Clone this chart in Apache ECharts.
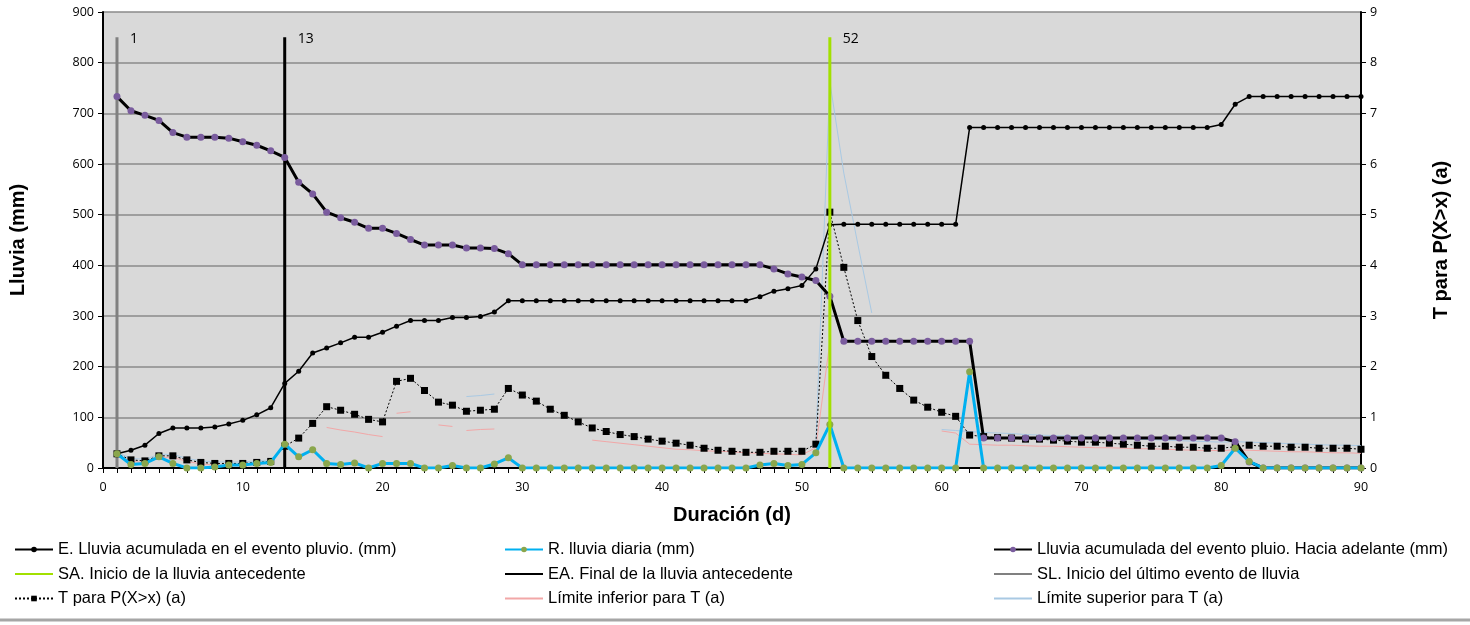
<!DOCTYPE html>
<html>
<head>
<meta charset="utf-8">
<script src="https://cdn.jsdelivr.net/npm/echarts@6/dist/echarts.min.js"></script>
<style>
  html, body { margin: 0; padding: 0; background: #ffffff; }
  #chart { width: 1470px; height: 625px; }
</style>
</head>
<body>
<div id="chart"></div>
<script>
// Duración (d)
const days = [
  1, 2, 3, 4, 5, 6, 7, 8, 9, 10, 11, 12, 13, 14, 15, 16, 17, 18, 19, 20,
  21, 22, 23, 24, 25, 26, 27, 28, 29, 30, 31, 32, 33, 34, 35, 36, 37, 38, 39, 40,
  41, 42, 43, 44, 45, 46, 47, 48, 49, 50, 51, 52, 53, 54, 55, 56, 57, 58, 59, 60,
  61, 62, 63, 64, 65, 66, 67, 68, 69, 70, 71, 72, 73, 74, 75, 76, 77, 78, 79, 80,
  81, 82, 83, 84, 85, 86, 87, 88, 89, 90
];

// E. Lluvia acumulada en el evento pluvio. (mm)
const cumulativeRain = [
  28, 35, 45, 68, 79, 79, 79, 81, 87, 94, 105, 119, 167, 191, 227, 237, 247, 258, 258, 268,
  280, 291, 291, 291, 297, 297, 299, 308, 330, 330, 330, 330, 330, 330, 330, 330, 330, 330, 330, 330,
  330, 330, 330, 330, 330, 330, 338, 349, 354, 360, 393, 480, 481, 481, 481, 481, 481, 481, 481, 481,
  481, 672, 672, 672, 672, 672, 672, 672, 672, 672, 672, 672, 672, 672, 672, 672, 672, 672, 672, 678,
  718, 733, 733, 733, 733, 733, 733, 733, 733, 733
];

// R. lluvia diaria (mm)
const dailyRain = [
  28, 7, 9, 22, 9, 0, 0, 2, 6, 6, 9, 11, 47, 22, 36, 9, 7, 10, 0, 9,
  9, 9, 0, 0, 5, 0, 0, 8, 20, 0, 0, 0, 0, 0, 0, 0, 0, 0, 0, 0,
  0, 0, 0, 0, 0, 0, 6, 9, 5, 7, 30, 86, 0, 0, 0, 0, 0, 0, 0, 0,
  0, 190, 0, 0, 0, 0, 0, 0, 0, 0, 0, 0, 0, 0, 0, 0, 0, 0, 0, 5,
  39, 13, 0, 0, 0, 0, 0, 0, 0, 0
];

// Lluvia acumulada del evento pluio. Hacia adelante (mm)
const forwardRain = [
  733, 705, 696, 686, 662, 653, 653, 653, 651, 644, 637, 626, 613, 564, 541, 505, 494, 485, 473, 473,
  463, 451, 440, 440, 440, 434, 434, 433, 423, 401, 401, 401, 401, 401, 401, 401, 401, 401, 401, 401,
  401, 401, 401, 401, 401, 401, 401, 393, 383, 377, 370, 339, 250, 250, 250, 250, 250, 250, 250, 250,
  250, 250, 59, 59, 59, 59, 59, 59, 59, 59, 59, 59, 59, 59, 59, 59, 59, 59, 59, 59,
  52, 12, 0, 0, 0, 0, 0, 0, 0, 0
];

// T para P(X>x) (a)
const returnPeriod = [
  0.28, 0.16, 0.14, 0.24, 0.24, 0.16, 0.11, 0.09, 0.09, 0.09, 0.11, 0.13, 0.43, 0.59, 0.88, 1.21, 1.14, 1.06, 0.96, 0.91,
  1.71, 1.77, 1.53, 1.30, 1.24, 1.12, 1.14, 1.16, 1.57, 1.44, 1.32, 1.16, 1.04, 0.91, 0.79, 0.72, 0.66, 0.62, 0.57, 0.53,
  0.49, 0.45, 0.39, 0.35, 0.33, 0.31, 0.31, 0.33, 0.33, 0.33, 0.47, 5.05, 3.96, 2.91, 2.20, 1.83, 1.57, 1.34, 1.20, 1.10,
  1.02, 0.65, 0.62, 0.60, 0.59, 0.57, 0.57, 0.55, 0.53, 0.51, 0.51, 0.49, 0.47, 0.45, 0.43, 0.43, 0.41, 0.41, 0.39, 0.39,
  0.42, 0.45, 0.43, 0.43, 0.41, 0.41, 0.39, 0.39, 0.39, 0.37
];

// Límite inferior para T (a); null = sin valor
const lowerLimit = [
  0.25, 0.13, 0.11, 0.21, 0.21, 0.13, 0.08, 0.06, 0.06, 0.06, 0.08, 0.10, null, null, null, 0.80, 0.75, 0.71, 0.66, 0.62,
  1.08, 1.11, null, 0.85, 0.82, 0.74, 0.76, 0.77, null, null, null, null, null, null, 0.55, 0.52, 0.49, 0.46, 0.43, 0.40,
  0.37, 0.36, 0.34, 0.33, 0.32, 0.30, 0.29, 0.28, 0.27, 0.26, 0.40, 2.49, null, null, null, null, null, null, null, 0.73,
  0.69, 0.47, 0.46, 0.45, 0.45, 0.44, 0.43, 0.43, 0.42, 0.41, 0.40, 0.40, 0.39, 0.38, 0.38, 0.37, 0.36, 0.35, 0.35, 0.34,
  0.36, 0.35, 0.34, 0.33, 0.32, 0.32, 0.31, 0.30, 0.30, 0.29
];
const lowerLimitBreaksAfter = [20, 25];

// Límite superior para T (a); null = sin valor
const upperLimit = [
  0.31, 0.19, 0.17, 0.27, 0.27, 0.19, 0.14, 0.12, 0.12, 0.12, 0.14, 0.16, null, null, null, null, null, null, null, null,
  null, null, null, null, null, 1.41, 1.43, 1.46, null, null, null, null, null, null, null, null, null, null, null, null,
  null, null, null, null, null, null, null, null, null, null, 0.50, 7.62, 5.82, 4.42, 3.06, null, null, null, null, 0.76,
  0.74, 0.72, 0.70, 0.69, 0.68, 0.66, 0.65, 0.64, 0.63, 0.62, 0.61, 0.60, 0.59, 0.57, 0.56, 0.55, 0.54, 0.53, 0.52, 0.51,
  0.52, 0.51, 0.50, 0.49, 0.48, 0.47, 0.46, 0.45, 0.45, 0.44
];
const upperLimitBreaksAfter = [];

// Días marcados con líneas verticales
const antecedentStartDay = 52;   // SA
const antecedentEndDay = 13;     // EA
const lastEventStartDay = 1;     // SL
const markerTop = 850;

// Ejes
const rainAxis = { min: 0, max: 900, interval: 100 };
const periodAxis = { min: 0, max: 9, interval: 1 };
const dayAxis = { min: 0, max: 90, interval: 10 };

const pairs = (values, breaksAfter) => {
  const out = [];
  values.forEach((v, i) => {
    out.push([days[i], v == null ? '-' : v]);
    if (breaksAfter && breaksAfter.indexOf(days[i]) >= 0) out.push([days[i] + 0.5, '-']);
  });
  return out;
};

const markerLine = (name, day, color, z) => ({
  name: name,
  type: 'line',
  yAxisIndex: 0,
  symbol: 'none',
  z: z,
  lineStyle: { color: color, width: 3 },
  itemStyle: { color: color },
  data: [[day, 0], [day, markerTop]],
  endLabel: {
    show: true, formatter: String(day), distance: 13, offset: [0, 2],
    color: '#000', fontSize: 14, fontFamily: 'Open Sans'
  },
  emphasis: { disabled: true }
});

const chart = echarts.init(document.getElementById('chart'), null, { renderer: 'canvas' });

const legendBase = {
  orient: 'vertical',
  top: 541,
  padding: 0,
  itemWidth: 38,
  itemHeight: 7,
  itemGap: 7.5,
  textStyle: { fontFamily: 'Liberation Sans', fontSize: 16.5, color: '#000' },
  selectedMode: false
};
const plainLine = { opacity: 0 };

chart.setOption({
  animation: false,
  backgroundColor: '#ffffff',
  grid: {
    left: 102, right: 109, top: 12, bottom: 157,
    show: true, backgroundColor: '#d9d9d9', borderWidth: 0
  },
  legend: [
    Object.assign({}, legendBase, { left: 14, data: [
      'E. Lluvia acumulada en el evento pluvio. (mm)',
      { name: 'SA. Inicio de la lluvia antecedente', itemStyle: plainLine },
      'T para P(X>x) (a)'
    ] }),
    Object.assign({}, legendBase, { left: 504, data: [
      'R. lluvia diaria (mm)',
      { name: 'EA. Final de la lluvia antecedente', itemStyle: plainLine },
      { name: 'Límite inferior para T (a)', itemStyle: plainLine }
    ] }),
    Object.assign({}, legendBase, { left: 993, data: [
      'Lluvia acumulada del evento pluio. Hacia adelante (mm)',
      { name: 'SL. Inicio del último evento de lluvia', itemStyle: plainLine },
      { name: 'Límite superior para T (a)', itemStyle: plainLine }
    ] })
  ],
  xAxis: {
    type: 'value',
    min: dayAxis.min, max: dayAxis.max, interval: dayAxis.interval,
    name: 'Duración (d)', nameLocation: 'middle', nameGap: 37,
    nameTextStyle: { fontFamily: 'Liberation Sans', fontWeight: 'bold', fontSize: 20, color: '#000' },
    axisLine: { onZero: false, lineStyle: { color: '#000', width: 2 } },
    axisTick: { show: true, length: 5, lineStyle: { color: '#000', width: 1 } },
    minorTick: { show: true, splitNumber: 10, length: 5, lineStyle: { color: '#000', width: 1 } },
    axisLabel: { fontFamily: 'Open Sans', fontSize: 12.5, color: '#000', margin: 13 },
    splitLine: { show: false }
  },
  yAxis: [
    {
      type: 'value',
      min: rainAxis.min, max: rainAxis.max, interval: rainAxis.interval,
      name: 'Lluvia (mm)', nameLocation: 'middle', nameGap: 75, nameRotate: 90,
      nameTextStyle: { fontFamily: 'Liberation Sans', fontWeight: 'bold', fontSize: 20, color: '#000' },
      axisLine: { show: true, lineStyle: { color: '#000', width: 2 } },
      axisTick: { show: true, length: 5, lineStyle: { color: '#000', width: 1 } },
      axisLabel: { fontFamily: 'Open Sans', fontSize: 12.5, color: '#000', margin: 9 },
      splitLine: { show: true, lineStyle: { color: '#8a8a8a', width: 1.5 } }
    },
    {
      type: 'value',
      min: periodAxis.min, max: periodAxis.max, interval: periodAxis.interval,
      position: 'right',
      name: 'T para P(X>x) (a)', nameLocation: 'middle', nameGap: 70, nameRotate: 90,
      nameTextStyle: { fontFamily: 'Liberation Sans', fontWeight: 'bold', fontSize: 20, color: '#000' },
      axisLine: { show: true, lineStyle: { color: '#000', width: 2 } },
      axisTick: { show: true, length: 5, lineStyle: { color: '#000', width: 1 } },
      axisLabel: { fontFamily: 'Open Sans', fontSize: 12.5, color: '#000', margin: 9 },
      splitLine: { show: false }
    }
  ],
  graphic: [
    { type: 'line', shape: { x1: 0, y1: 620, x2: 1470, y2: 620 }, style: { stroke: '#a6a6a6', lineWidth: 3 }, silent: true }
  ],
  series: [
    {
      name: 'Límite inferior para T (a)', type: 'line', yAxisIndex: 1, z: 2,
      symbol: 'none', connectNulls: false,
      lineStyle: { color: '#f2a7a7', width: 1 }, itemStyle: { color: '#f2a7a7' },
      data: pairs(lowerLimit, lowerLimitBreaksAfter)
    },
    {
      name: 'Límite superior para T (a)', type: 'line', yAxisIndex: 1, z: 2,
      symbol: 'none', connectNulls: false,
      lineStyle: { color: '#a9c9e3', width: 1 }, itemStyle: { color: '#a9c9e3' },
      data: pairs(upperLimit, upperLimitBreaksAfter)
    },
    markerLine('SL. Inicio del último evento de lluvia', lastEventStartDay, '#808080', 3),
    markerLine('EA. Final de la lluvia antecedente', antecedentEndDay, '#000000', 3),
    {
      name: 'T para P(X>x) (a)', type: 'line', yAxisIndex: 1, z: 4,
      symbol: 'rect', symbolSize: 7, showAllSymbol: true,
      lineStyle: { color: '#000', width: 1, type: [2, 2] }, itemStyle: { color: '#000' },
      data: pairs(returnPeriod)
    },
    {
      name: 'E. Lluvia acumulada en el evento pluvio. (mm)', type: 'line', yAxisIndex: 0, z: 5,
      symbol: 'circle', symbolSize: 5, showAllSymbol: true,
      lineStyle: { color: '#000', width: 1.5 }, itemStyle: { color: '#000' },
      data: pairs(cumulativeRain)
    },
    {
      name: 'Lluvia acumulada del evento pluio. Hacia adelante (mm)', type: 'line', yAxisIndex: 0, z: 6,
      symbol: 'circle', symbolSize: 7, showAllSymbol: true,
      lineStyle: { color: '#000', width: 3 }, itemStyle: { color: '#7a5c9e' },
      data: pairs(forwardRain)
    },
    {
      name: 'R. lluvia diaria (mm)', type: 'line', yAxisIndex: 0, z: 7,
      symbol: 'circle', symbolSize: 7, showAllSymbol: true,
      lineStyle: { color: '#00b0f0', width: 3 }, itemStyle: { color: '#8aa64c' },
      data: pairs(dailyRain)
    },
    markerLine('SA. Inicio de la lluvia antecedente', antecedentStartDay, '#a2e000', 8)
  ]
});
</script>
</body>
</html>
